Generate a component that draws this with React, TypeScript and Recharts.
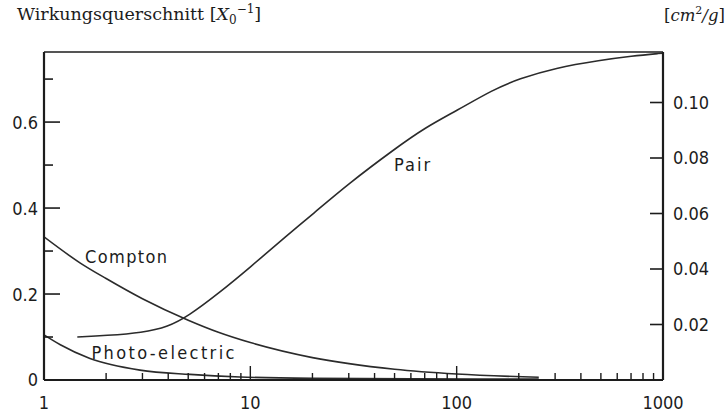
import React from 'react';
import { LineChart, Line, XAxis, YAxis, ReferenceDot, ReferenceLine } from 'recharts';

// Photon energy axis (MeV, logarithmic)
const energyTicks = [
  1, 2, 3, 4, 5, 6, 7, 8, 9,
  10, 20, 30, 40, 50, 60, 70, 80, 90,
  100, 200, 300, 400, 500, 600, 700, 800, 900, 1000,
];
const energyLabels = [1, 10, 100, 1000];

// Left axis: cross section in units of 1/X0
const leftTicks = [0, 0.1, 0.2, 0.3, 0.4, 0.5, 0.6, 0.7];
const leftLabels = [0, 0.2, 0.4, 0.6];
// Right axis: mass attenuation in cm^2/g
const rightTicks = [0.02, 0.04, 0.06, 0.08, 0.1];

// Pair production
const pairEnergy = [1.45, 2, 3, 4, 5, 7, 10, 15, 20, 30, 50, 70, 100, 150, 200, 300, 500, 700, 1000];
const pairValue = [0.1, 0.1035, 0.11, 0.124, 0.1488, 0.2012, 0.2626, 0.3358, 0.3853, 0.4572, 0.5372, 0.5865, 0.6265, 0.6753, 0.7005, 0.726, 0.744, 0.7535, 0.7605];

// Compton scattering
const comptonEnergy = [1, 1.5, 2, 3, 5, 7, 10, 20, 50, 100, 250];
const comptonValue = [0.333, 0.272, 0.236, 0.189, 0.139, 0.111, 0.087, 0.052, 0.025, 0.0139, 0.0064];

// Photo-electric absorption
const photoEnergy = [1, 1.2, 1.67, 2.92, 5.1, 8.9, 20, 60, 250];
const photoValue = [0.105, 0.082, 0.05, 0.023, 0.013, 0.007, 0.004, 0.003, 0.002];

const LEFT_MAX = 0.763;
const RIGHT_MAX = 0.1182;

const toRows = (e: number[], v: number[]) => e.map((energy, i) => ({ energy, value: v[i] }));
const pairData = toRows(pairEnergy, pairValue);
const comptonData = toRows(comptonEnergy, comptonValue);
const photoData = toRows(photoEnergy, photoValue);

const INK = '#1c1c1c';
const CURVE = '#2b2b2b';
const TICK_FONT = "'DejaVu Sans Condensed', 'DejaVu Sans', sans-serif";
const SERIF = "'DejaVu Serif', 'Liberation Serif', serif";

const LeftTick = (props: any) => {
  const { x, y, payload } = props;
  const major = leftLabels.includes(payload.value);
  return (
    <g>
      <line x1={x} x2={x + (major ? 16 : 9)} y1={y} y2={y} stroke={INK} strokeWidth={1.6} />
      {major && (
        <text x={x - 6} y={y} dy="0.36em" textAnchor="end" fontFamily={TICK_FONT} fontStretch="condensed" fontSize={18} fill={INK}>
          {String(payload.value)}
        </text>
      )}
    </g>
  );
};

const RightTick = (props: any) => {
  const { x, y, payload } = props;
  return (
    <g>
      <line x1={x - 13} x2={x} y1={y} y2={y} stroke={INK} strokeWidth={1.6} />
      <text x={x + 10} y={y} dy="0.36em" textAnchor="start" fontFamily={TICK_FONT} fontStretch="condensed" fontSize={18} fill={INK}>
        {Number(payload.value).toFixed(2)}
      </text>
    </g>
  );
};

const BottomTick = (props: any) => {
  const { x, y, payload } = props;
  const v = payload.value;
  const labelled = energyLabels.includes(v);
  const len = v === 10 || v === 100 ? 14 : v === 1 || v === 1000 ? 0 : 7;
  return (
    <g>
      {len > 0 && <line x1={x} x2={x} y1={y} y2={y - len} stroke={INK} strokeWidth={1.4} />}
      {labelled && (
        <text x={x} y={y + 29} textAnchor="middle" fontFamily={TICK_FONT} fontStretch="condensed" fontSize={18} fill={INK}>
          {String(v)}
        </text>
      )}
    </g>
  );
};

const curveLabel = (text: string, width: number) => (p: any) => (
  <text
    x={p.cx}
    y={p.cy}
    textAnchor="middle"
    dominantBaseline="central"
    textLength={width}
    lengthAdjust="spacing"
    fontFamily={TICK_FONT}
    fontStretch="condensed"
    fontSize={18}
    fill={INK}
  >
    {text}
  </text>
);

export default function App() {
  return (
    <div style={{ position: 'absolute', left: 0, top: 0, width: 726, height: 419, background: '#fff' }}>
      <LineChart width={726} height={419} margin={{ top: 52, right: 0, bottom: 0, left: 0 }}>
        <XAxis
          xAxisId="bottom"
          dataKey="energy"
          type="number"
          scale="log"
          domain={[1, 1000]}
          ticks={energyTicks}
          interval={0}
          height={39}
          tickSize={0}
          tickMargin={0}
          tickLine={false}
          axisLine={{ stroke: INK, strokeWidth: 2 }}
          tick={<BottomTick />}
          allowDataOverflow
        />
        <YAxis
          yAxisId="left"
          orientation="left"
          type="number"
          domain={[0, LEFT_MAX]}
          ticks={leftTicks}
          interval={0}
          width={44}
          tickSize={0}
          tickMargin={0}
          tickLine={false}
          axisLine={{ stroke: INK, strokeWidth: 2.2 }}
          tick={<LeftTick />}
          allowDataOverflow
        />
        <YAxis
          yAxisId="right"
          orientation="right"
          type="number"
          domain={[0, RIGHT_MAX]}
          ticks={rightTicks}
          interval={0}
          width={63}
          tickSize={0}
          tickMargin={0}
          tickLine={false}
          axisLine={{ stroke: INK, strokeWidth: 2.2 }}
          tick={<RightTick />}
          allowDataOverflow
        />
        {/* upper frame edge */}
        <ReferenceLine xAxisId="bottom" yAxisId="left" y={LEFT_MAX} stroke={INK} strokeWidth={1.6} />
        <Line xAxisId="bottom" yAxisId="left" data={pairData} dataKey="value" type="basis" stroke={CURVE} strokeWidth={1.6} dot={false} isAnimationActive={false} />
        <Line xAxisId="bottom" yAxisId="left" data={comptonData} dataKey="value" type="monotone" stroke={CURVE} strokeWidth={1.6} dot={false} isAnimationActive={false} />
        <Line xAxisId="bottom" yAxisId="left" data={photoData} dataKey="value" type="monotone" stroke={CURVE} strokeWidth={1.6} dot={false} isAnimationActive={false} />
        <ReferenceDot xAxisId="bottom" yAxisId="left" x={2.5} y={0.288} r={0} shape={curveLabel('Compton', 82)} />
        <ReferenceDot xAxisId="bottom" yAxisId="left" x={3.77} y={0.065} r={0} shape={curveLabel('Photo-electric', 143)} />
        <ReferenceDot xAxisId="bottom" yAxisId="left" x={60.8} y={0.502} r={0} shape={curveLabel('Pair', 36)} />
      </LineChart>
      <svg width={726} height={419} style={{ position: 'absolute', left: 0, top: 0, pointerEvents: 'none' }}>
        <text x={17} y={20} fontFamily={SERIF} fontSize={17.5} fill={INK}>
          Wirkungsquerschnitt [<tspan fontStyle="italic">X</tspan>
          <tspan fontSize={12} dy={4}>0</tspan>
          <tspan fontSize={12} dy={-11}>−1</tspan>
          <tspan dy={7}>]</tspan>
        </text>
        <text x={664} y={21} fontFamily={SERIF} fontSize={16.5} fill={INK}>
          [<tspan fontStyle="italic">cm</tspan>
          <tspan fontSize={11} dy={-7}>2</tspan>
          <tspan dy={7} fontStyle="italic">/g</tspan>]
        </text>
      </svg>
    </div>
  );
}
